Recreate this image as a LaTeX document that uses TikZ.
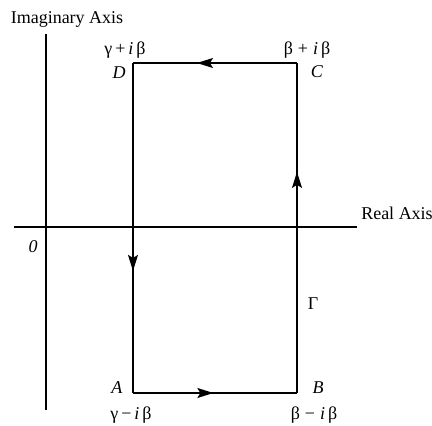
\documentclass[tikz,border=0pt]{standalone}
\usepackage{fontspec}
\setmainfont{Liberation Serif}
\usetikzlibrary{arrows.meta,decorations.markings}
\tikzset{
  axisline/.style={line width=1.3pt},
  pathline/.style={line width=1.3pt},
  midarrow/.style={postaction={decorate},
    decoration={markings,mark=at position #1 with {\arrow{Stealth[length=16pt,width=10pt,inset=3pt]}}}},
  lbl/.style={font=\fontsize{18}{20}\selectfont, inner sep=0pt},
}

\begin{document}
\begin{tikzpicture}[x=1pt,y=-1pt]
    \useasboundingbox (0,0) rectangle (432,426);
    % corners of the contour
    \coordinate (A) at (133,393);
    \coordinate (B) at (297,393);
    \coordinate (C) at (297,63);
    \coordinate (D) at (133,63);
    % axes
    \coordinate (reL) at (14,227);
    \coordinate (reR) at (357,227);
    \coordinate (imT) at (46,34);
    \coordinate (imB) at (46,410);
    \draw[axisline] (reL) -- (reR);
    \draw[axisline] (imT) -- (imB);
    \draw[pathline, midarrow=0.49] (A) -- (B);
    \draw[pathline, midarrow=0.67] (B) -- (C);
    \draw[pathline, midarrow=0.61] (C) -- (D);
    \draw[pathline, midarrow=0.63] (D) -- (A);
    % labels
    \node[lbl] (imLbl) at (67,19) {Imaginary Axis};
    \node[lbl] (reLbl) at (397,213) {Real Axis};
    \node[lbl] (orig) at (33,247) {\textit{0}};
    \node[lbl] (labA) at (117,388) {\textit{A}};
    \node[lbl] (labB) at (318,388) {\textit{B}};
    \node[lbl] (labC) at (317,72) {\textit{C}};
    \node[lbl] (labD) at (119,73) {\textit{D}};
    \node[lbl] (gam) at (313,304) {Γ};
    \node[lbl] (valA) at (131,415) {γ\,−\,\textit{i}\,β};
    \node[lbl] (valB) at (314,415) {β\;−\;\textit{i}\,β};
    \node[lbl] (valC) at (307,50) {β\;+\;\textit{i}\,β};
    \node[lbl] (valD) at (125,50) {γ\,+\,\textit{i}\,β};
\end{tikzpicture}
\end{document}
